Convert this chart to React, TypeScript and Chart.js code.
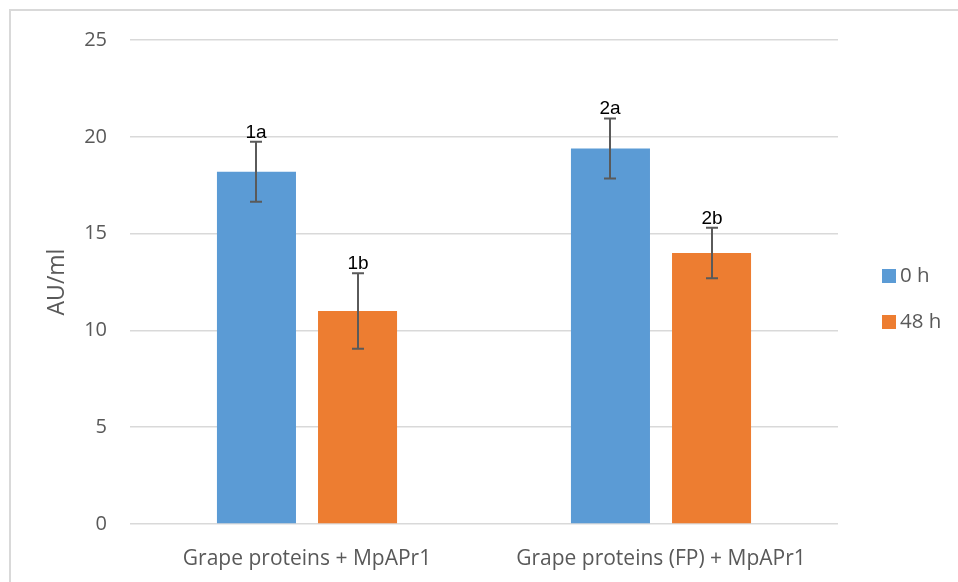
import { useEffect, useRef } from "react";
import { Chart, registerables } from "chart.js";

Chart.register(...registerables);

const categories = ["Grape proteins + MpAPr1", "Grape proteins (FP) + MpAPr1"];
const seriesNames = ["0 h", "48 h"];
const values0h = [18.2, 19.4];
const values48h = [11.0, 14.0];
const errors0h = [1.55, 1.55];
const errors48h = [1.95, 1.3];
const letters0h = ["1a", "2a"];
const letters48h = ["1b", "2b"];
const yMin = 0;
const yMax = 25;
const yStep = 5;
const axisTitle = "AU/ml";

const BLUE = "#5B9BD5";
const ORANGE = "#ED7D31";
const TEXT_GREY = "#595959";
const GRID = "#d9d9d9";

const errorsBySeries = [errors0h, errors48h];
const lettersBySeries = [letters0h, letters48h];

const errorBarPlugin = {
  id: "errorBars",
  afterDatasetsDraw(chart: any) {
    const ctx = chart.ctx;
    const yScale = chart.scales.y;
    chart.data.datasets.forEach((ds: any, di: number) => {
      const meta = chart.getDatasetMeta(di);
      const errs = errorsBySeries[di];
      const letters = lettersBySeries[di];
      meta.data.forEach((el: any, i: number) => {
        const v = ds.data[i];
        const e = errs[i];
        const x = Math.round(el.x);
        const yTop = yScale.getPixelForValue(v + e);
        const yBot = yScale.getPixelForValue(v - e);
        ctx.save();
        ctx.strokeStyle = "#5a5a5a";
        ctx.lineWidth = 2;
        ctx.beginPath();
        ctx.moveTo(x, yTop);
        ctx.lineTo(x, yBot);
        ctx.moveTo(x - 6, yTop);
        ctx.lineTo(x + 6, yTop);
        ctx.moveTo(x - 6, yBot);
        ctx.lineTo(x + 6, yBot);
        ctx.stroke();
        ctx.fillStyle = "#000000";
        ctx.font = "19px 'Liberation Sans', Arial, sans-serif";
        ctx.textAlign = "center";
        ctx.textBaseline = "alphabetic";
        ctx.fillText(letters[i], x, yTop - 4);
        ctx.restore();
      });
    });
  },
};

const legendPlugin = {
  id: "sideLegend",
  afterDraw(chart: any) {
    const ctx = chart.ctx;
    ctx.save();
    chart.data.datasets.forEach((ds: any, di: number) => {
      const cy = 276 + di * 46;
      ctx.fillStyle = ds.backgroundColor;
      ctx.fillRect(882, cy - 7, 14, 14);
      ctx.fillStyle = TEXT_GREY;
      ctx.font = "20.5px 'Open Sans', sans-serif";
      ctx.textAlign = "left";
      ctx.textBaseline = "middle";
      ctx.fillText(ds.label, 900, cy);
    });
    ctx.restore();
  },
};

export default function App() {
  const ref = useRef<HTMLCanvasElement | null>(null);
  useEffect(() => {
    if (!ref.current) return;
    const chart = new Chart(ref.current, {
      type: "bar",
      data: {
        labels: categories,
        datasets: [
          { label: seriesNames[0], data: values0h, backgroundColor: BLUE, categoryPercentage: 0.571, barPercentage: 0.782 },
          { label: seriesNames[1], data: values48h, backgroundColor: ORANGE, categoryPercentage: 0.571, barPercentage: 0.782 },
        ],
      },
      options: {
        animation: false,
        responsive: false,
        maintainAspectRatio: false,
        layout: { padding: { left: 0, right: 120, top: 40, bottom: 0 } },
        plugins: { legend: { display: false }, tooltip: { enabled: false } },
        scales: {
          x: {
            grid: { display: false },
            border: { display: false },
            ticks: { color: TEXT_GREY, font: { family: "'Open Sans', sans-serif", size: 21 }, padding: 14 },
            afterFit: (s: any) => { s.height = 58; },
          },
          y: {
            min: yMin,
            max: yMax,
            ticks: { stepSize: yStep, color: TEXT_GREY, font: { family: "'Open Sans', sans-serif", size: 20 }, padding: 23 },
            grid: { color: GRID, lineWidth: 1.5, drawTicks: false },
            border: { display: false },
            title: { display: true, text: axisTitle, color: TEXT_GREY, font: { family: "'Open Sans', sans-serif", size: 23 }, padding: { top: 44, bottom: 0 } },
            afterFit: (s: any) => { s.width = 130; },
          },
        },
      },
      plugins: [errorBarPlugin, legendPlugin],
    });
    return () => chart.destroy();
  }, []);
  return (
    <div style={{ position: "absolute", left: 0, top: 0, width: 958, height: 582, background: "#fff", overflow: "hidden" }}>
      <div style={{ position: "absolute", left: 9, top: 9, right: -4, bottom: -4, borderLeft: `2px solid ${GRID}`, borderTop: `2px solid ${GRID}` }} />
      <canvas ref={ref} width={958} height={582} style={{ position: "absolute", left: 0, top: 0 }} />
    </div>
  );
}
